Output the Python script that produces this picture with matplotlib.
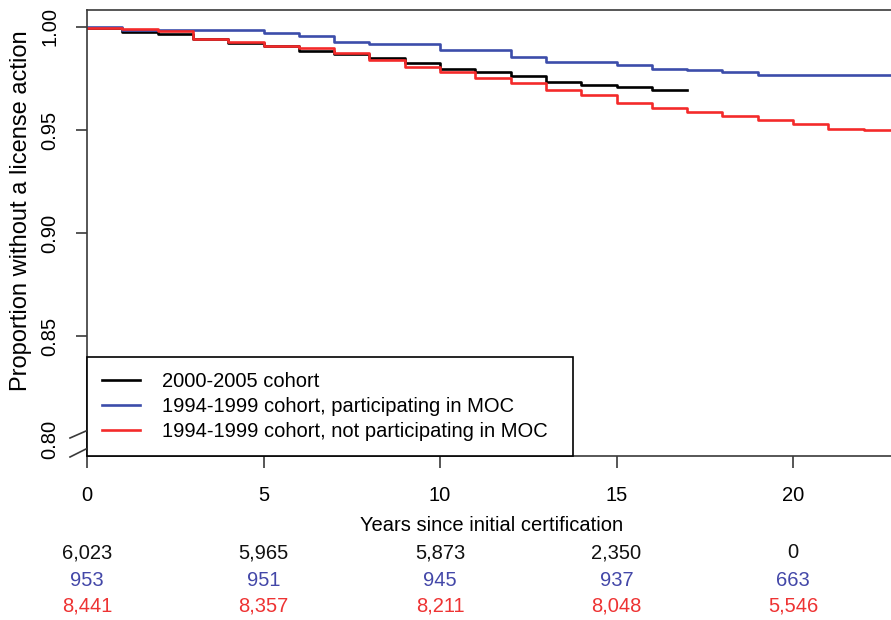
import matplotlib
matplotlib.use("Agg")
import matplotlib.pyplot as plt
from matplotlib.lines import Line2D
from matplotlib.transforms import blended_transform_factory

plt.rcParams['font.family'] = ['Liberation Sans', 'DejaVu Sans']

# ---- data ----
series_labels = ["2000-2005 cohort",
                 "1994-1999 cohort, participating in MOC",
                 "1994-1999 cohort, not participating in MOC"]

black_t = [0, 1, 2, 3, 4, 5, 6, 7, 8, 9, 10, 11, 12, 13, 14, 15, 16]
black_s = [0.9996, 0.9977, 0.9967, 0.9940, 0.9924, 0.9908, 0.9883, 0.9869, 0.9848,
           0.9827, 0.9794, 0.9780, 0.9764, 0.9734, 0.9717, 0.9709, 0.9692]
black_end = 17

blue_t = [0, 1, 5, 6, 7, 8, 10, 12, 13, 15, 16, 17, 18, 19]
blue_s = [1.0000, 0.9984, 0.9970, 0.9958, 0.9926, 0.9919, 0.9887, 0.9855, 0.9830,
          0.9814, 0.9798, 0.9792, 0.9780, 0.9768]
blue_end = 24

red_t = list(range(0, 23))
red_s = [0.9994, 0.9989, 0.9981, 0.9944, 0.9927, 0.9910, 0.9896, 0.9874, 0.9840,
         0.9808, 0.9783, 0.9751, 0.9727, 0.9694, 0.9670, 0.9630, 0.9605, 0.9587,
         0.9567, 0.9549, 0.9529, 0.9507, 0.9501]
red_end = 24

x_ticks = [0, 5, 10, 15, 20]
y_ticks = [0.80, 0.85, 0.90, 0.95, 1.00]
y_ticklabels = ["0.80", "0.85", "0.90", "0.95", "1.00"]

risk_times = [0, 5, 10, 15, 20]
risk_black = [6023, 5965, 5873, 2350, 0]
risk_blue = [953, 951, 945, 937, 663]
risk_red = [8441, 8357, 8211, 8048, 5546]

# ---- style ----
C_BLACK = "#000000"
C_BLUE = "#3C4DAA"
C_RED = "#F42A2A"
C_BLUE_TXT = "#4347A8"
C_RED_TXT = "#EE3333"
SPINE = "#3a3a3a"

W, H = 891, 620
fig = plt.figure(figsize=(W / 100, H / 100), dpi=100)
ax_left, ax_right, ax_top, ax_bot = 87, 897, 10, 456
ax = fig.add_axes([ax_left / W, 1 - ax_bot / H, (ax_right - ax_left) / W, (ax_bot - ax_top) / H])

for t, s, end, c in [(black_t, black_s, black_end, C_BLACK),
                     (blue_t, blue_s, blue_end, C_BLUE),
                     (red_t, red_s, red_end, C_RED)]:
    ax.step(list(t) + [end], list(s) + [s[-1]], where='post', color=c, lw=1.9)

ax.set_xlim(0, (ax_right - ax_left) / 35.3)
ax.set_ylim(1 - (ax_bot - 27) / 2060, 1 + (27 - ax_top) / 2060)

for sp in ax.spines.values():
    sp.set_color(SPINE)
    sp.set_linewidth(1.2)

ax.set_xticks(x_ticks)
ax.set_xticklabels([str(v) for v in x_ticks])
ax.set_yticks(y_ticks)
ax.set_yticklabels(y_ticklabels, rotation=90, va='center')
ax.tick_params(axis='x', length=8.5, width=1.2, color=SPINE, labelsize=14.5, pad=13)
ax.tick_params(axis='y', length=8, width=1.2, color=SPINE, labelsize=14.5, pad=12)
ax.yaxis.get_major_ticks()[0].tick1line.set_visible(False)

ax.set_xlabel("Years since initial certification", fontsize=14.5, labelpad=8)
ax.set_ylabel("Proportion without a license action", fontsize=17)
ax.yaxis.set_label_coords((32 - ax_left) / (ax_right - ax_left), (ax_bot - 211) / (ax_bot - ax_top))

# axis break marks
for y0, y1 in [(438, 431), (457, 449)]:
    fig.add_artist(Line2D([70 / W, 86 / W], [1 - y0 / H, 1 - y1 / H],
                          color=SPINE, lw=1.2, transform=fig.transFigure))

# legend
handles = [Line2D([], [], color=c, lw=1.9) for c in (C_BLACK, C_BLUE, C_RED)]
leg = ax.legend(handles, series_labels, loc='lower left',
                bbox_to_anchor=(0, 0, (573 - ax_left) / (ax_right - ax_left), 0.3),
                mode='expand', borderaxespad=0, fontsize=14.5, frameon=True,
                fancybox=False, edgecolor='black', framealpha=1,
                handlelength=1.9, handletextpad=1.05, borderpad=0.75, labelspacing=0.3)
leg.get_frame().set_linewidth(1.2)

# risk table
tr = blended_transform_factory(ax.transData, fig.transFigure)
for vals, c, ypx in [(risk_black, "#111111", 553), (risk_blue, C_BLUE_TXT, 580),
                     (risk_red, C_RED_TXT, 606)]:
    for xt, v in zip(risk_times, vals):
        ax.text(xt, 1 - ypx / H, f"{v:,}", transform=tr, ha='center', va='center',
                fontsize=14.5, color=c, clip_on=False)

fig.savefig("out.png", dpi=100)
